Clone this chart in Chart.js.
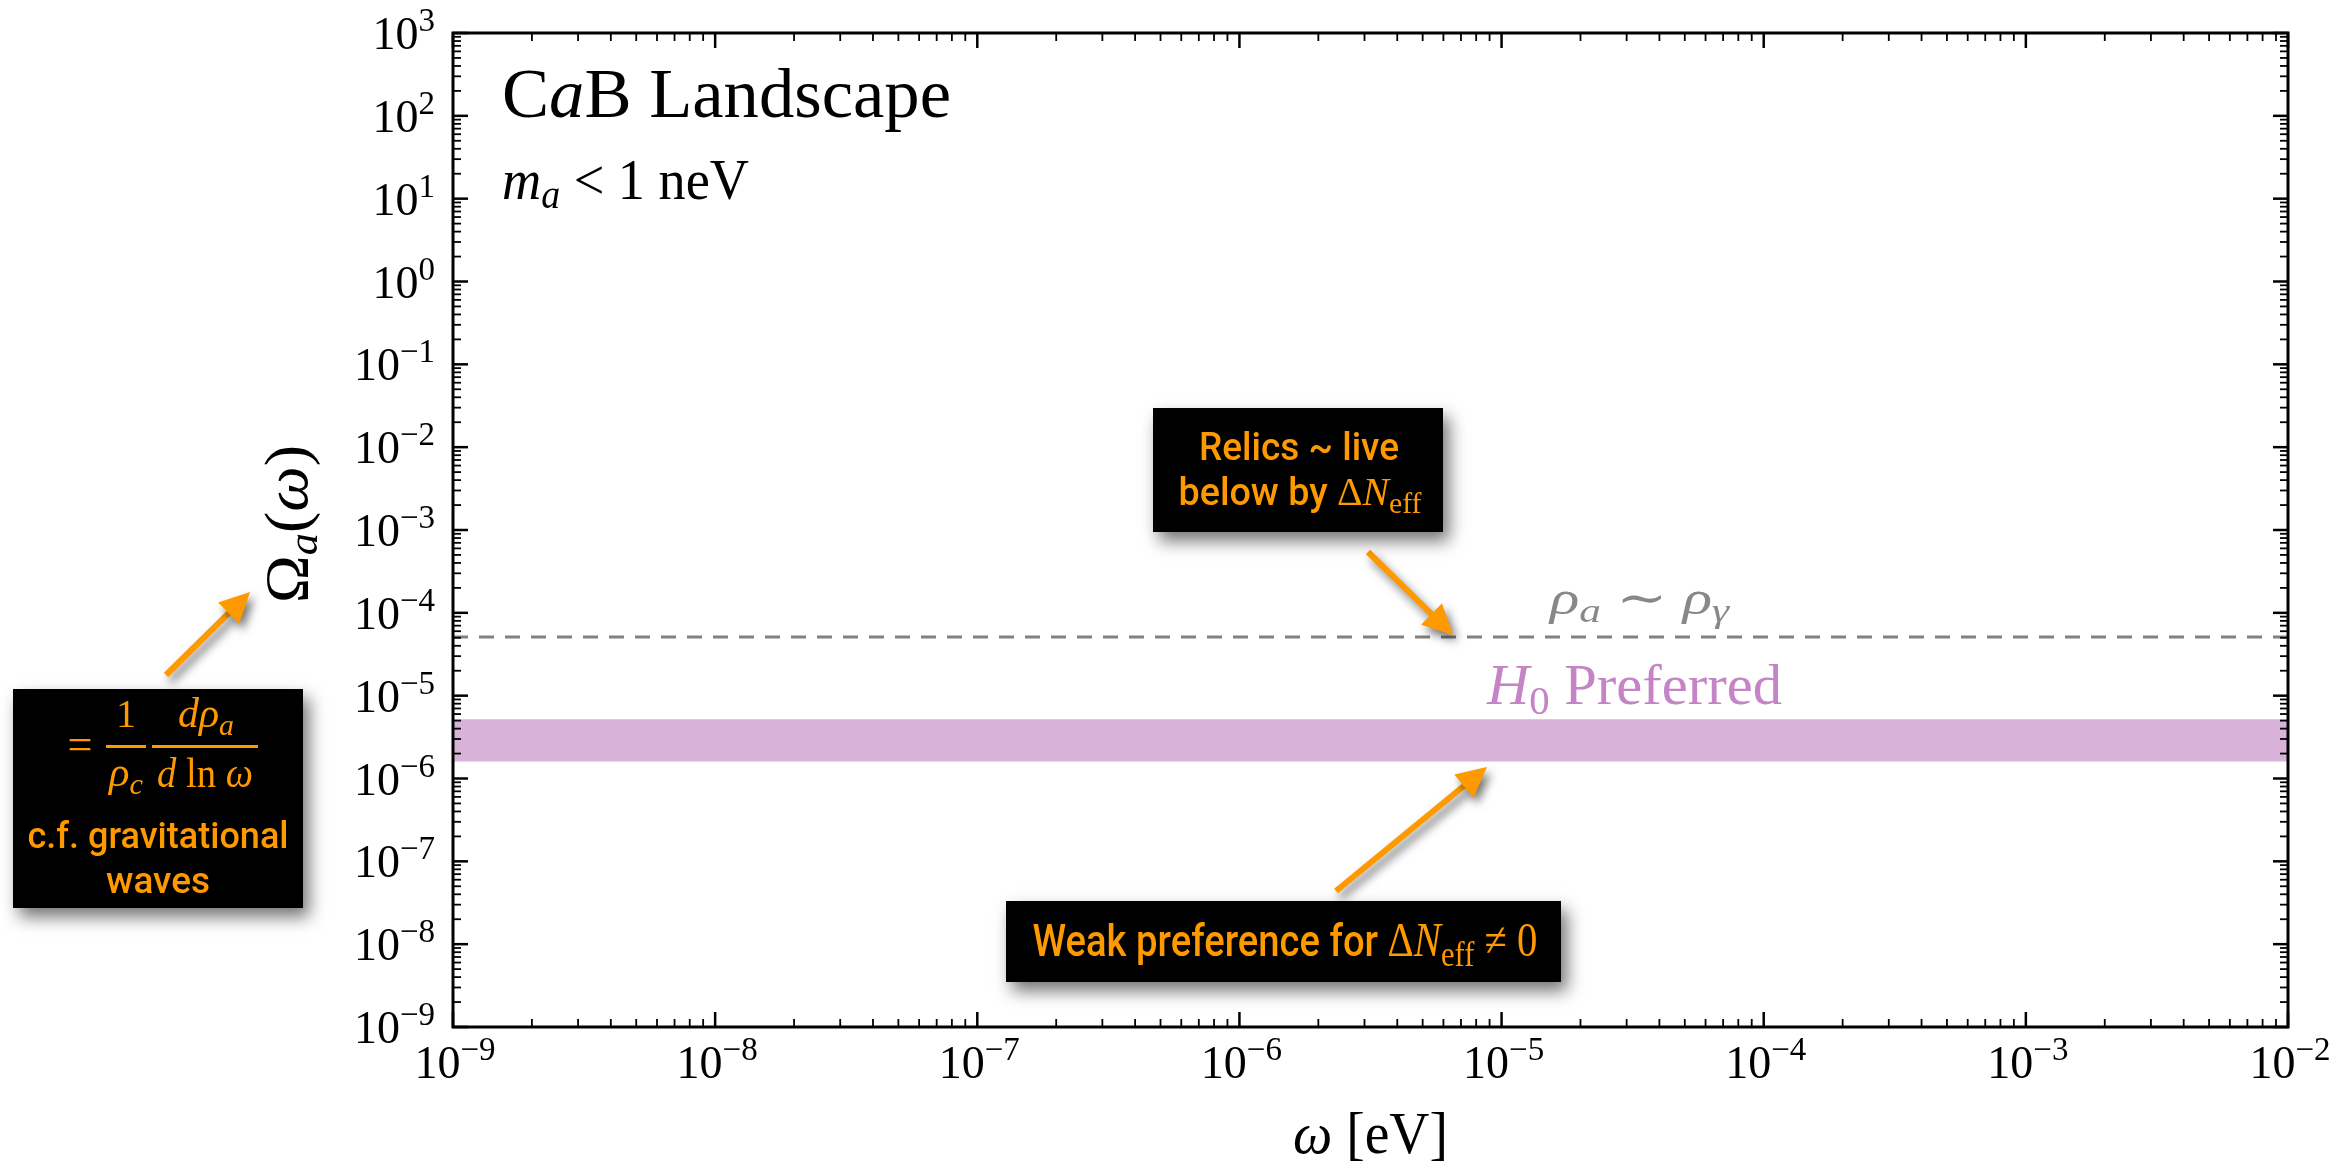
<!DOCTYPE html>
<html>
<head>
<meta charset="utf-8">
<script src="https://cdn.jsdelivr.net/npm/chart.js@4.4.0/dist/chart.umd.min.js"></script>
<style>
  html, body { margin: 0; padding: 0; background: #fff; }
  #wrap { width: 2348px; height: 1169px; }
</style>
</head>
<body>
<div id="wrap"><canvas id="cabChart" width="2348" height="1169"></canvas></div>
<script>
// omega range [eV] and the horizontal levels of Omega_a
const omegaRange = [1e-9, 1e-2];
const rhoEqualLevel = [5.1e-5, 5.1e-5];
const h0BandUpper = [5.2e-6, 5.2e-6];
const h0BandLower = [1.6e-6, 1.6e-6];
const xTickExponents = [-9, -8, -7, -6, -5, -4, -3, -2];
const yTickExponents = [-9, -8, -7, -6, -5, -4, -3, -2, -1, 0, 1, 2, 3];

const ORANGE = '#ff9900';
const SERIF = '"Liberation Serif", "DejaVu Serif", serif';
const SANS = 'Roboto, "Noto Sans", sans-serif';

function serif(size, italic) {
    return (italic ? 'italic ' : '') + size + 'px ' + SERIF;
}
function sans(size) {
    return '500 ' + size + 'px ' + SANS;
}

function toPoints(values) {
    return omegaRange.map((x, i) => ({ x: x, y: values[i] }));
}

// draw a row of differently styled text pieces; optional target width squeezes it
function drawRuns(ctx, runs, x, y, opts) {
    opts = opts || {};
    let natural = 0;
    runs.forEach(r => {
        ctx.font = r.font;
        r.w = ctx.measureText(r.t).width;
        natural += r.w;
    });
    const sx = opts.width ? opts.width / natural : 1;
    const total = natural * sx;
    let start = x;
    if (opts.align === 'center') start = x - total / 2;
    if (opts.align === 'right') start = x - total;
    ctx.save();
    ctx.translate(start, y);
    ctx.scale(sx, 1);
    ctx.textAlign = 'left';
    ctx.textBaseline = 'alphabetic';
    let cx = 0;
    runs.forEach(r => {
        ctx.font = r.font;
        ctx.fillStyle = r.color || opts.color || '#000';
        ctx.fillText(r.t, cx, r.dy || 0);
        cx += r.w;
    });
    ctx.restore();
}

function powRuns(exp) {
    const e = exp < 0 ? '\u2212' + Math.abs(exp) : String(exp);
    return [
        { t: '10', font: serif(46) },
        { t: e, font: serif(33), dy: -18 }
    ];
}

function shadowOn(ctx, blur, ox, oy) {
    ctx.shadowColor = 'rgba(0,0,0,0.55)';
    ctx.shadowBlur = blur;
    ctx.shadowOffsetX = ox;
    ctx.shadowOffsetY = oy;
}

function drawBox(ctx, x0, y0, x1, y1) {
    ctx.save();
    shadowOn(ctx, 16, 6, 9);
    ctx.fillStyle = '#000';
    ctx.fillRect(x0, y0, x1 - x0, y1 - y0);
    ctx.restore();
}

function drawArrow(ctx, tx, ty, hx, hy) {
    const ang = Math.atan2(hy - ty, hx - tx);
    const headLen = 30, headHalf = 15;
    const bx = hx - headLen * Math.cos(ang);
    const by = hy - headLen * Math.sin(ang);
    ctx.save();
    shadowOn(ctx, 10, 4, 6);
    ctx.strokeStyle = ORANGE;
    ctx.fillStyle = ORANGE;
    ctx.lineWidth = 6;
    ctx.beginPath();
    ctx.moveTo(tx, ty);
    ctx.lineTo(bx, by);
    ctx.stroke();
    ctx.beginPath();
    ctx.moveTo(hx, hy);
    ctx.lineTo(bx + headHalf * Math.sin(ang), by - headHalf * Math.cos(ang));
    ctx.lineTo(bx - headHalf * Math.sin(ang), by + headHalf * Math.cos(ang));
    ctx.closePath();
    ctx.fill();
    ctx.restore();
}

const decorations = {
    id: 'decorations',
    afterDatasetsDraw(chart) {
        const ctx = chart.ctx;
        const xs = chart.scales.x, ys = chart.scales.y;
        const a = chart.chartArea;

        // frame
        ctx.save();
        ctx.strokeStyle = '#000';
        ctx.lineWidth = 3;
        ctx.strokeRect(a.left, a.top, a.right - a.left, a.bottom - a.top);

        // inward ticks on all four sides
        const tick = (x0, y0, x1, y1, w) => {
            ctx.lineWidth = w;
            ctx.beginPath();
            ctx.moveTo(x0, y0);
            ctx.lineTo(x1, y1);
            ctx.stroke();
        };
        xTickExponents.forEach((e, i) => {
            const px = xs.getPixelForValue(Math.pow(10, e));
            tick(px, a.bottom, px, a.bottom - 15, 2.5);
            tick(px, a.top, px, a.top + 15, 2.5);
            if (i < xTickExponents.length - 1) {
                for (let m = 2; m <= 9; m++) {
                    const mx = xs.getPixelForValue(m * Math.pow(10, e));
                    tick(mx, a.bottom, mx, a.bottom - 8, 1.8);
                    tick(mx, a.top, mx, a.top + 8, 1.8);
                }
            }
        });
        yTickExponents.forEach((e, i) => {
            const py = ys.getPixelForValue(Math.pow(10, e));
            tick(a.left, py, a.left + 15, py, 2.5);
            tick(a.right, py, a.right - 15, py, 2.5);
            if (i < yTickExponents.length - 1) {
                for (let m = 2; m <= 9; m++) {
                    const my = ys.getPixelForValue(m * Math.pow(10, e));
                    tick(a.left, my, a.left + 8, my, 1.8);
                    tick(a.right, my, a.right - 8, my, 1.8);
                }
            }
        });
        ctx.restore();

        // tick labels
        xTickExponents.forEach(e => {
            const px = xs.getPixelForValue(Math.pow(10, e));
            drawRuns(ctx, powRuns(e), px + 2, a.bottom + 51, { align: 'center' });
        });
        yTickExponents.forEach(e => {
            const py = ys.getPixelForValue(Math.pow(10, e));
            drawRuns(ctx, powRuns(e), a.left - 18, py + 16, { align: 'right' });
        });

        // axis titles
        drawRuns(ctx, [
            { t: '\u03c9', font: serif(60, true) },
            { t: ' [eV]', font: serif(60) }
        ], (a.left + a.right) / 2, 1153, { align: 'center', width: 155 });

        ctx.save();
        ctx.translate(307, (a.top + a.bottom) / 2 - 6);
        ctx.rotate(-Math.PI / 2);
        drawRuns(ctx, [
            { t: '\u03a9', font: serif(62) },
            { t: 'a', font: serif(43, true), dy: 10 },
            { t: '(', font: serif(62) },
            { t: '\u03c9', font: serif(62, true) },
            { t: ')', font: serif(62) }
        ], 0, 0, { align: 'center', width: 158 });
        ctx.restore();

        // text inside the plot
        drawRuns(ctx, [
            { t: 'C', font: serif(70) },
            { t: 'a', font: serif(70, true) },
            { t: 'B Landscape', font: serif(70) }
        ], 502, 117, { width: 449 });
        drawRuns(ctx, [
            { t: 'm', font: serif(56, true) },
            { t: 'a', font: serif(39, true), dy: 9 },
            { t: ' < 1 neV', font: serif(56) }
        ], 502, 199, { width: 247 });

        drawRuns(ctx, [
            { t: '\u03c1', font: serif(48, true) },
            { t: 'a', font: serif(34, true), dy: 8 },
            { t: ' \u223c ', font: serif(48) },
            { t: '\u03c1', font: serif(48, true) },
            { t: '\u03b3', font: serif(34, true), dy: 8 }
        ], 1550, 614, { width: 179, color: '#888888' });

        drawRuns(ctx, [
            { t: 'H', font: serif(56, true) },
            { t: '0', font: serif(39), dy: 10 },
            { t: ' Preferred', font: serif(56) }
        ], 1487, 704, { width: 295, color: '#c584c5' });

        // annotation boxes and arrows
        drawArrow(ctx, 166, 675, 250, 592);
        drawArrow(ctx, 1368, 552, 1453, 635);
        drawArrow(ctx, 1336, 891, 1487, 767);

        drawBox(ctx, 13, 689, 303, 908);
        drawBox(ctx, 1153, 408, 1443, 532);
        drawBox(ctx, 1006, 901, 1561, 982);

        // relics box
        drawRuns(ctx, [{ t: 'Relics ~ live', font: sans(38) }], 1299, 460,
            { align: 'center', width: 200, color: ORANGE });
        drawRuns(ctx, [
            { t: 'below by ', font: sans(38) },
            { t: '\u0394', font: serif(40) },
            { t: 'N', font: serif(40, true) },
            { t: 'eff', font: serif(30), dy: 8 }
        ], 1300, 505, { align: 'center', width: 243, color: ORANGE });

        // weak preference box
        drawRuns(ctx, [
            { t: 'Weak preference for ', font: sans(45) },
            { t: '\u0394', font: serif(48) },
            { t: 'N', font: serif(48, true) },
            { t: 'eff', font: serif(36), dy: 10 },
            { t: ' \u2260 0', font: serif(48) }
        ], 1285, 956, { align: 'center', width: 505, color: ORANGE });

        // left box: Omega definition
        ctx.save();
        ctx.fillStyle = ORANGE;
        ctx.fillRect(106, 745, 40, 3);
        ctx.fillRect(152, 745, 106, 3);
        ctx.restore();
        drawRuns(ctx, [{ t: '=', font: serif(44) }], 80, 759, { align: 'center', width: 25, color: ORANGE });
        drawRuns(ctx, [{ t: '1', font: serif(40) }], 126, 727, { align: 'center', color: ORANGE });
        drawRuns(ctx, [
            { t: '\u03c1', font: serif(42, true) },
            { t: 'c', font: serif(30, true), dy: 8 }
        ], 126, 786, { align: 'center', width: 34, color: ORANGE });
        drawRuns(ctx, [
            { t: 'd\u03c1', font: serif(42, true) },
            { t: 'a', font: serif(30, true), dy: 8 }
        ], 206, 727, { align: 'center', width: 56, color: ORANGE });
        drawRuns(ctx, [
            { t: 'd ', font: serif(42, true) },
            { t: 'ln ', font: serif(42) },
            { t: '\u03c9', font: serif(42, true) }
        ], 205, 787, { align: 'center', width: 96, color: ORANGE });
        drawRuns(ctx, [{ t: 'c.f. gravitational', font: sans(37) }], 158, 848,
            { align: 'center', width: 261, color: ORANGE });
        drawRuns(ctx, [{ t: 'waves', font: sans(37) }], 158, 893,
            { align: 'center', width: 104, color: ORANGE });
    }
};

const ctx = document.getElementById('cabChart').getContext('2d');
new Chart(ctx, {
    type: 'line',
    data: {
        datasets: [
            {
                label: 'rho_a ~ rho_gamma',
                data: toPoints(rhoEqualLevel),
                borderColor: '#808080',
                borderWidth: 3,
                borderDash: [15, 11],
                pointRadius: 0,
                fill: false
            },
            {
                label: 'H0 preferred (upper)',
                data: toPoints(h0BandUpper),
                borderWidth: 0,
                borderColor: 'rgba(0,0,0,0)',
                backgroundColor: 'rgb(216,178,217)',
                pointRadius: 0,
                fill: '+1'
            },
            {
                label: 'H0 preferred (lower)',
                data: toPoints(h0BandLower),
                borderWidth: 0,
                borderColor: 'rgba(0,0,0,0)',
                pointRadius: 0,
                fill: false
            }
        ]
    },
    options: {
        responsive: false,
        devicePixelRatio: 1,
        animation: false,
        events: [],
        layout: { padding: { left: 453, right: 60, top: 33, bottom: 142 } },
        plugins: {
            legend: { display: false },
            tooltip: { enabled: false }
        },
        scales: {
            x: { type: 'logarithmic', min: 1e-9, max: 1e-2, display: false },
            y: { type: 'logarithmic', min: 1e-9, max: 1e3, display: false }
        }
    },
    plugins: [decorations]
});
</script>
</body>
</html>
